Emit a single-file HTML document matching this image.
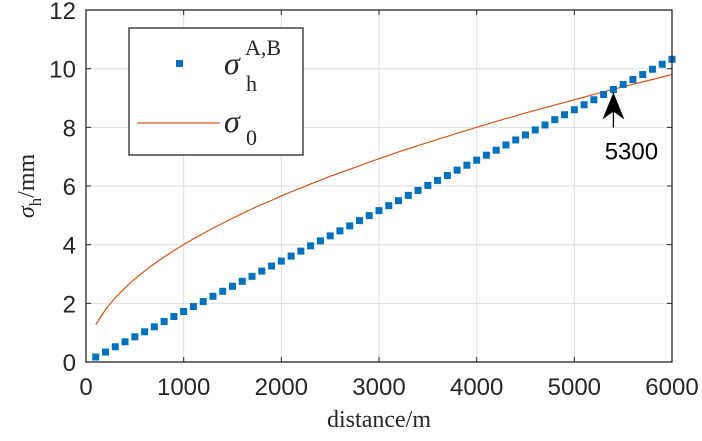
<!DOCTYPE html>
<html><head><meta charset="utf-8"><style>
body{margin:0;background:#fff;}
svg text{font-family:"Liberation Sans",sans-serif;fill:#262626;}
.serif{font-family:"Liberation Serif",serif !important;}
</style></head><body>
<svg id="chart" width="702" height="436" xmlns="http://www.w3.org/2000/svg">
<g id="grid"></g>
<g id="series"></g>
<g id="axes"></g>
</svg>
<script>
const distances=[100,200,300,400,500,600,700,800,900,1000,1100,1200,1300,1400,1500,1600,1700,1800,1900,2000,2100,2200,2300,2400,2500,2600,2700,2800,2900,3000,3100,3200,3300,3400,3500,3600,3700,3800,3900,4000,4100,4200,4300,4400,4500,4600,4700,4800,4900,5000,5100,5200,5300,5400,5500,5600,5700,5800,5900,6000];
const sigmaAB=[0.17,0.34,0.52,0.69,0.86,1.03,1.20,1.38,1.55,1.72,1.89,2.06,2.24,2.41,2.58,2.75,2.92,3.10,3.27,3.44,3.61,3.78,3.96,4.13,4.30,4.47,4.64,4.82,4.99,5.16,5.33,5.50,5.68,5.85,6.02,6.19,6.36,6.54,6.71,6.88,7.05,7.22,7.40,7.57,7.74,7.91,8.08,8.26,8.43,8.60,8.77,8.94,9.12,9.29,9.46,9.63,9.80,9.98,10.15,10.32];
const sigma0=[1.27,1.79,2.19,2.53,2.83,3.10,3.35,3.58,3.80,4.00,4.20,4.38,4.56,4.73,4.90,5.06,5.22,5.37,5.51,5.66,5.80,5.93,6.07,6.20,6.33,6.45,6.57,6.69,6.81,6.93,7.04,7.16,7.27,7.38,7.48,7.59,7.69,7.80,7.90,8.00,8.10,8.20,8.30,8.39,8.49,8.58,8.67,8.76,8.85,8.94,9.03,9.12,9.21,9.30,9.38,9.47,9.55,9.63,9.72,9.80];
const xTicks=[0,1000,2000,3000,4000,5000,6000];
const yTicks=[0,2,4,6,8,10,12];
const annotX=5400, annotLabel="5300";

const L=86,R=672,T=10,B=362;
const sx=v=>L+(v-0)/6000*(R-L);
const sy=v=>B-(v-0)/12*(B-T);
const NS="http://www.w3.org/2000/svg";
function mk(tag,attrs,parent){const e=document.createElementNS(NS,tag);for(const k in attrs)e.setAttribute(k,attrs[k]);parent.appendChild(e);return e;}
const grid=document.getElementById('grid'),ser=document.getElementById('series'),ax=document.getElementById('axes');
mk('rect',{x:L,y:T,width:R-L,height:B-T,fill:'#fff'},grid);
xTicks.forEach(t=>{
  const g=mk('line',{x1:sx(t),x2:sx(t),y1:T,y2:B,stroke:'#dfdfdf','stroke-width':1},grid);
  
  mk('line',{x1:sx(t),x2:sx(t),y1:B,y2:B-5,stroke:'#262626'},ax);
  mk('line',{x1:sx(t),x2:sx(t),y1:T,y2:T+5,stroke:'#262626'},ax);
  const tx=mk('text',{x:sx(t),y:B+33,'text-anchor':'middle','font-size':24},ax);tx.textContent=t;
  
});
yTicks.forEach(t=>{
  const g=mk('line',{x1:L,x2:R,y1:sy(t),y2:sy(t),stroke:'#dfdfdf','stroke-width':1},grid);
  
  mk('line',{x1:L,x2:L+5,y1:sy(t),y2:sy(t),stroke:'#262626'},ax);
  mk('line',{x1:R,x2:R-5,y1:sy(t),y2:sy(t),stroke:'#262626'},ax);
  const tx=mk('text',{x:L-10,y:sy(t)+9,'text-anchor':'end','font-size':24},ax);tx.textContent=t;
  
});
const fr=mk('rect',{x:L,y:T,width:R-L,height:B-T,fill:'none',stroke:'#262626','stroke-width':1.3},ax);

const line=mk('polyline',{points:distances.map((d,i)=>sx(d)+','+sy(sigma0[i])).join(' '),fill:'none',stroke:'#d95319','stroke-width':1.2},ser);

distances.forEach((d,i)=>{
  const p=mk('rect',{x:sx(d)-3.5,y:sy(sigmaAB[i])-3.5,width:7,height:7,fill:'#0072bd'},ser);
  
});
const ai=distances.indexOf(annotX);
const ay=sy(sigmaAB[ai]);
const an=mk('g',{},ax);

mk('line',{x1:sx(annotX),x2:sx(annotX),y1:ay+3,y2:ay+38,stroke:'#000','stroke-width':1.3},an);
mk('path',{d:`M${sx(annotX)},${ay+3} L${sx(annotX)-11},${ay+30} L${sx(annotX)},${ay+22} L${sx(annotX)+11},${ay+30} Z`,fill:'#000'},an);
const at=mk('text',{x:sx(annotX)+18,y:ay+70,'text-anchor':'middle','font-size':24},an);at.textContent=annotLabel;
at.style.fill='#000';
const lg=mk('g',{},ax);

mk('rect',{x:129,y:28,width:174,height:127,fill:'#fff',stroke:'#262626','stroke-width':1.3},lg);
mk('rect',{x:176,y:60,width:7,height:7,fill:'#0072bd'},lg);
mk('line',{x1:137,x2:220,y1:123,y2:123,stroke:'#d95319','stroke-width':1.2},lg);
let t1=mk('text',{x:224,y:74,'font-size':32,'font-style':'italic','class':'serif'},lg);t1.textContent='σ';
let t1b=mk('text',{x:245,y:55,'font-size':22,'class':'serif'},lg);t1b.textContent='A,B';
let t1c=mk('text',{x:246,y:91,'font-size':22,'class':'serif'},lg);t1c.textContent='h';
let t2=mk('text',{x:224,y:132,'font-size':32,'font-style':'italic','class':'serif'},lg);t2.textContent='σ';
let t2b=mk('text',{x:246,y:145,'font-size':22,'class':'serif'},lg);t2b.textContent='0';
const xt=mk('text',{x:(L+R)/2,y:427,'text-anchor':'middle','font-size':24,'class':'serif'},ax);xt.textContent='distance/m';

const yt=mk('text',{transform:'translate(34,186) rotate(-90)','text-anchor':'middle','font-size':24,'class':'serif'},ax);
yt.innerHTML='<tspan font-style="italic">σ</tspan><tspan font-size="17" dy="7">h</tspan><tspan dy="-7">/mm</tspan>';

</script>
</body></html>
